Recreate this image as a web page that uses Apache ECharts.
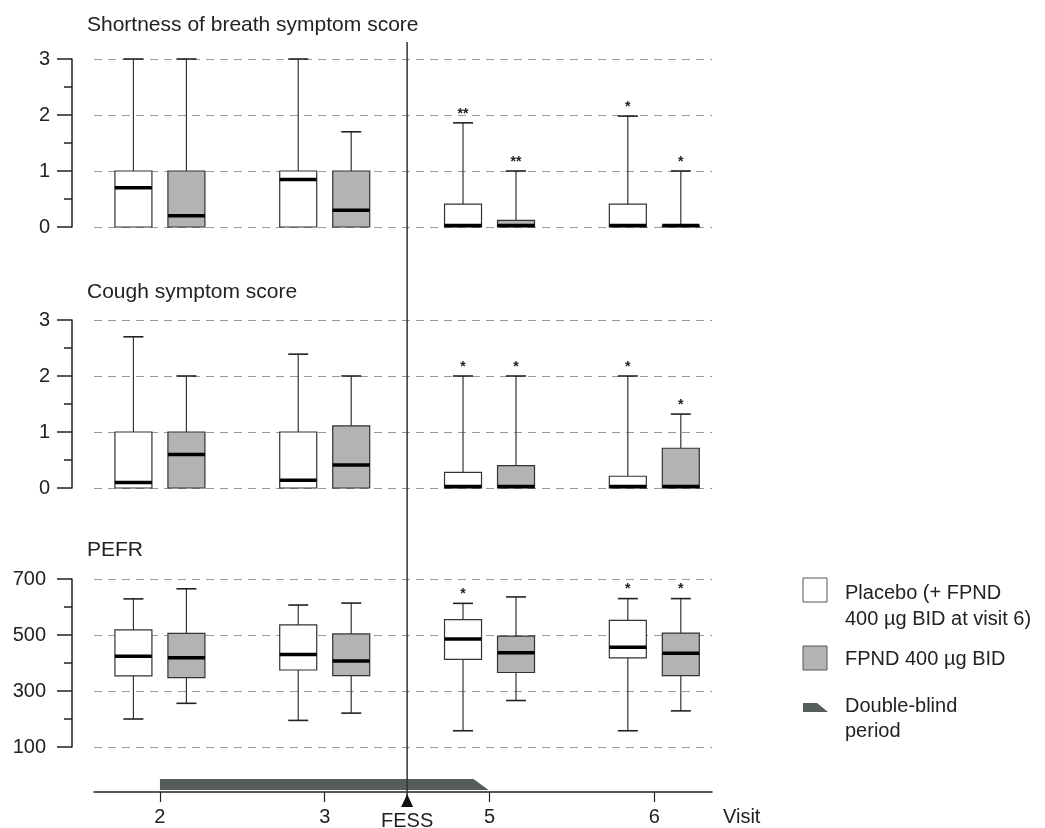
<!DOCTYPE html>
<html>
<head>
<meta charset="utf-8">
<script src="https://cdn.jsdelivr.net/npm/echarts@6/dist/echarts.min.js"></script>
<style>
html,body{margin:0;padding:0;background:#fff;}
#chart{width:1045px;height:828px;}
</style>
</head>
<body>
<div id="chart"></div>
<script>
// ---------- data ----------
const visits = ['2', '3', '5', '6'];
const fessPos = 1.5;               // FESS between visit 3 and visit 5
const doubleBlind = ['2', '5'];    // double-blind period from visit 2 to visit 5

const panelTitles = ['Shortness of breath symptom score', 'Cough symptom score', 'PEFR'];

// each box: [min, Q1, median, Q3, max]
const sobPlacebo = [[0, 0, 0.7, 1, 3], [0, 0, 0.85, 1, 3], [0, 0, 0, 0.41, 1.86], [0, 0, 0, 0.41, 1.98]];
const sobFpnd    = [[0, 0, 0.2, 1, 3], [0, 0, 0.3, 1, 1.7], [0, 0, 0, 0.12, 1.0], [0, 0, 0, 0.02, 1.0]];
const sobPlaceboStars = ['', '', '**', '*'];
const sobFpndStars    = ['', '', '**', '*'];

const coughPlacebo = [[0, 0, 0.1, 1, 2.7], [0, 0, 0.14, 1, 2.39], [0, 0, 0, 0.28, 2.0], [0, 0, 0, 0.21, 2.0]];
const coughFpnd    = [[0, 0, 0.6, 1, 2.0], [0, 0, 0.41, 1.11, 2.0], [0, 0, 0, 0.4, 2.0], [0, 0, 0, 0.71, 1.32]];
const coughPlaceboStars = ['', '', '*', '*'];
const coughFpndStars    = ['', '', '*', '*'];

const pefrPlacebo = [[200, 354, 424, 518, 629], [195, 375, 430, 536, 607], [158, 413, 486, 555, 613], [158, 418, 456, 552, 630]];
const pefrFpnd    = [[256, 348, 419, 506, 665], [221, 355, 407, 504, 614], [266, 366, 437, 496, 636], [229, 355, 435, 507, 630]];
const pefrPlaceboStars = ['', '', '*', '*'];
const pefrFpndStars    = ['', '', '', '*'];

const scoreTicks = [0, 1, 2, 3];
const pefrTicks = [100, 300, 500, 700];

const legendNames = ['Placebo (+ FPND\n400 µg BID at visit 6)', 'FPND 400 µg BID', 'Double-blind\nperiod'];

// ---------- styling ----------
const FONT = "'Liberation Sans', Arial, Helvetica, sans-serif";
const INK = '#222';
const BOX_STROKE = '#333';
const FILL_PLACEBO = '#ffffff';
const FILL_FPND = '#b3b3b3';
const BAR_COLOR = '#545d58';
const GRID_LEFT = 94, GRID_WIDTH = 618, PANEL_H = 168;
const panelTops = [59, 320, 579];

const chart = echarts.init(document.getElementById('chart'), null, {renderer: 'canvas'});

function boxRenderer(side, fill, stars) {
  return function (params, api) {
    const pos = api.value(0);
    const mn = api.value(1), q1 = api.value(2), md = api.value(3), q3 = api.value(4), mx = api.value(5);
    const cx = api.coord([pos, 0])[0] + side * 26.5;
    const y = v => api.coord([pos, v])[1];
    const half = 18.5, capHalf = 10;
    const children = [];
    if (mx > q3) {
      children.push({type: 'line', shape: {x1: cx, y1: y(q3), x2: cx, y2: y(mx)}, style: {stroke: BOX_STROKE, lineWidth: 1.2}});
    }
    children.push({type: 'line', shape: {x1: cx - capHalf, y1: y(mx), x2: cx + capHalf, y2: y(mx)}, style: {stroke: INK, lineWidth: 1.6}});
    if (mn < q1) {
      children.push({type: 'line', shape: {x1: cx, y1: y(q1), x2: cx, y2: y(mn)}, style: {stroke: BOX_STROKE, lineWidth: 1.2}});
      children.push({type: 'line', shape: {x1: cx - capHalf, y1: y(mn), x2: cx + capHalf, y2: y(mn)}, style: {stroke: INK, lineWidth: 1.6}});
    }
    if (q3 > q1) {
      children.push({type: 'rect', shape: {x: cx - half, y: y(q3), width: 2 * half, height: y(q1) - y(q3)},
        style: {fill: fill, stroke: BOX_STROKE, lineWidth: 1.2}});
    }
    const my = Math.min(y(md), y(0) - 1.5);
    children.push({type: 'line', shape: {x1: cx - half, y1: my, x2: cx + half, y2: my}, style: {stroke: '#000', lineWidth: 3.5}});
    const s = stars[params.dataIndex];
    if (s) {
      children.push({type: 'text', x: cx, y: y(mx) - 2,
        style: {text: s, fill: INK, font: 'bold 14px ' + FONT, align: 'center', verticalAlign: 'bottom'}});
    }
    return {type: 'group', children: children};
  };
}

function boxSeries(name, gridIdx, data, side, fill, stars) {
  return {
    name: name, type: 'custom', xAxisIndex: gridIdx, yAxisIndex: gridIdx,
    clip: false, z: 5,
    data: data.map((d, i) => [i].concat(d)),
    renderItem: boxRenderer(side, fill, stars),
    encode: {x: 0, y: [1, 2, 3, 4, 5]}
  };
}

const grids = panelTops.map(t => ({left: GRID_LEFT, width: GRID_WIDTH, top: t, height: PANEL_H,
  containLabel: false, outerBoundsMode: 'none'}));
grids.push({left: GRID_LEFT, width: GRID_WIDTH, top: 42, height: 750, containLabel: false, outerBoundsMode: 'none'});

const xAxes = [0, 1, 2].map(i => ({gridIndex: i, type: 'value', min: -0.4, max: 3.35, show: false}));
xAxes.push({
  gridIndex: 3, type: 'value', min: -0.4, max: 3.35,
  axisLine: {show: true, onZero: false, lineStyle: {color: INK, width: 1.5}},
  axisTick: {show: true, length: 10, customValues: visits.map((v, i) => i), lineStyle: {color: INK, width: 1.2}},
  axisLabel: {
    show: true, margin: 15, color: INK, fontSize: 20, fontFamily: FONT,
    customValues: visits.map((v, i) => i).concat([fessPos]),
    formatter: v => (Math.abs(v - fessPos) < 1e-6 ? '{f|FESS}' : visits[Math.round(v)]),
    rich: {f: {fontSize: 20, fontFamily: FONT, color: INK, padding: [4, 0, 0, 0]}}
  },
  splitLine: {show: false},
  name: 'Visit', nameLocation: 'end', nameGap: 11,
  nameTextStyle: {color: INK, fontSize: 20, fontFamily: FONT, verticalAlign: 'top', padding: [15, 0, 0, 0]}
});

function scoreAxis(i, min, max, interval, margin) {
  return {
    gridIndex: i, type: 'value', min: min, max: max, interval: interval, offset: GRID_LEFT - 72,
    axisLine: {show: true, onZero: false, lineStyle: {color: INK, width: 1.5}},
    axisTick: {show: true, length: 15, lineStyle: {color: INK, width: 1.5}},
    minorTick: {show: true, splitNumber: 2, length: 8, lineStyle: {color: INK, width: 1.5}},
    axisLabel: {show: true, margin: margin, color: INK, fontSize: 20, fontFamily: FONT},
    splitLine: {show: true, lineStyle: {color: '#9a9a9a', width: 1, type: [8, 6]}},
    minorSplitLine: {show: false}
  };
}
const yAxes = [
  scoreAxis(0, scoreTicks[0], scoreTicks[scoreTicks.length - 1], 1, 22),
  scoreAxis(1, scoreTicks[0], scoreTicks[scoreTicks.length - 1], 1, 22),
  scoreAxis(2, pefrTicks[0], pefrTicks[pefrTicks.length - 1], 200, 26),
  {gridIndex: 3, type: 'value', min: 0, max: 1, show: false}
];

const dbStart = visits.indexOf(doubleBlind[0]);
const dbEnd = visits.indexOf(doubleBlind[1]);

const series = [
  boxSeries(legendNames[0], 0, sobPlacebo, -1, FILL_PLACEBO, sobPlaceboStars),
  boxSeries(legendNames[1], 0, sobFpnd, 1, FILL_FPND, sobFpndStars),
  boxSeries(legendNames[0], 1, coughPlacebo, -1, FILL_PLACEBO, coughPlaceboStars),
  boxSeries(legendNames[1], 1, coughFpnd, 1, FILL_FPND, coughFpndStars),
  boxSeries(legendNames[0], 2, pefrPlacebo, -1, FILL_PLACEBO, pefrPlaceboStars),
  boxSeries(legendNames[1], 2, pefrFpnd, 1, FILL_FPND, pefrFpndStars),
  {
    name: legendNames[2], type: 'custom', xAxisIndex: 3, yAxisIndex: 3, clip: false, z: 3,
    data: [[dbStart, dbEnd]],
    renderItem: function (params, api) {
      const x0 = api.coord([api.value(0), 0])[0];
      const x1 = api.coord([api.value(1), 0])[0];
      const ay = api.coord([api.value(0), 0])[1];
      return {type: 'polygon', shape: {points: [[x0, ay - 13], [x1 - 16, ay - 13], [x1 - 1, ay - 2], [x0, ay - 2]]},
        style: {fill: BAR_COLOR}};
    }
  },
  {
    name: 'FESS', type: 'custom', xAxisIndex: 3, yAxisIndex: 3, clip: false, z: 8,
    data: [[fessPos]],
    renderItem: function (params, api) {
      const top = api.coord([api.value(0), 1]);
      const bot = api.coord([api.value(0), 0]);
      const x = top[0], ay = bot[1];
      return {type: 'group', children: [
        {type: 'line', shape: {x1: x, y1: top[1], x2: x, y2: ay + 6}, style: {stroke: '#333', lineWidth: 1.5}},
        {type: 'polygon', shape: {points: [[x, ay + 2], [x + 6, ay + 15], [x - 6, ay + 15]]}, style: {fill: '#111'}}
      ]};
    }
  }
];

const titles = panelTitles.map((t, i) => ({
  text: t, left: 82, top: [10, 277, 535][i],
  textStyle: {fontSize: 21, fontWeight: 'normal', color: INK, fontFamily: FONT}
}));

const legendText = (x, y, t) => ({type: 'text', x: x, y: y,
  style: {text: t, fill: INK, font: '20px ' + FONT, verticalAlign: 'middle', align: 'left'}});

const option = {
  backgroundColor: '#ffffff',
  animation: false,
  title: titles,
  grid: grids,
  xAxis: xAxes,
  yAxis: yAxes,
  series: series,
  graphic: [
    {type: 'rect', shape: {x: 803, y: 578, width: 24, height: 24}, style: {fill: FILL_PLACEBO, stroke: '#555', lineWidth: 1}},
    legendText(845, 593, legendNames[0].split('\n')[0]),
    legendText(845, 619, legendNames[0].split('\n')[1]),
    {type: 'rect', shape: {x: 803, y: 646, width: 24, height: 24}, style: {fill: FILL_FPND, stroke: '#555', lineWidth: 1}},
    legendText(845, 659, legendNames[1]),
    {type: 'polygon', shape: {points: [[803, 703], [817, 703], [828, 712], [803, 712]]}, style: {fill: BAR_COLOR}},
    legendText(845, 706, legendNames[2].split('\n')[0]),
    legendText(845, 731, legendNames[2].split('\n')[1])
  ]
};
chart.setOption(option);
</script>
</body>
</html>
